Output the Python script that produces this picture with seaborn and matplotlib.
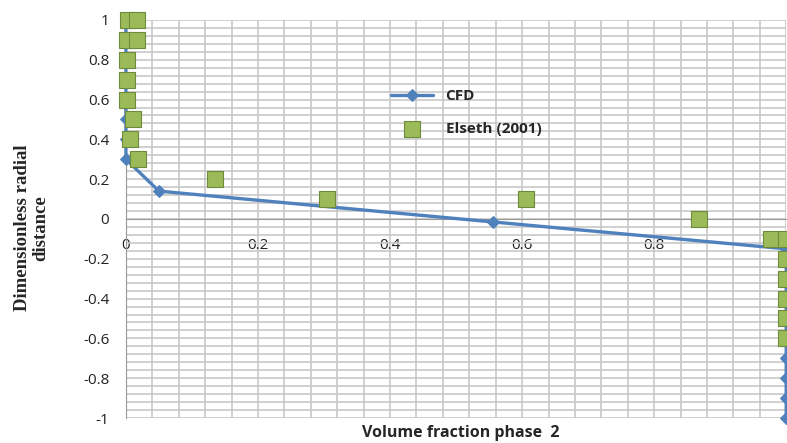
import numpy as np
import pandas as pd
import matplotlib
matplotlib.use('Agg')
import matplotlib.pyplot as plt
import seaborn as sns
from matplotlib.ticker import FuncFormatter

# CFD profile
cfd_x = [0, 0, 0, 0, 0, 0, 0, 0, 0.05, 0.556, 1.0, 1.0, 1.0, 1.0, 1.0, 1.0, 1.0, 1.0, 1.0]
cfd_y = [1.0, 0.9, 0.8, 0.7, 0.6, 0.5, 0.4, 0.3, 0.14, -0.015, -0.15, -0.3, -0.4, -0.5, -0.6, -0.7, -0.8, -0.9, -1.0]

# Elseth (2001) measurements
els_x = [0.003, 0.017, 0.002, 0.017, 0.002, 0.002, 0.002, 0.01, 0.006, 0.018, 0.135, 0.304,
         0.606, 0.868, 0.977, 1.0, 1.0, 1.0, 1.0, 1.0, 1.0]
els_y = [1.0, 1.0, 0.9, 0.9, 0.8, 0.7, 0.6, 0.5, 0.4, 0.3, 0.2, 0.1,
         0.1, 0.0, -0.1, -0.1, -0.2, -0.3, -0.4, -0.5, -0.6]

cfd = pd.DataFrame({'x': cfd_x, 'y': cfd_y})
els = pd.DataFrame({'x': els_x, 'y': els_y})

sns.set_style('white')
plt.rcParams['font.family'] = ['Open Sans', 'DejaVu Sans']

fig = plt.figure(figsize=(7.87, 4.43), dpi=100)
ax = fig.add_axes([0.160, 0.0564, 0.839, 0.8986])

sns.lineplot(data=cfd, x='x', y='y', sort=False, estimator=None, ax=ax,
             color='#4F81BD', linewidth=2.4, marker='D', markersize=6,
             markeredgecolor='#4F81BD', label='CFD', zorder=3, clip_on=False)
sns.scatterplot(data=els, x='x', y='y', ax=ax, marker='s', s=120,
                color='#9BBB59', edgecolor='#6E8B3D', linewidth=0.8,
                label='Elseth (2001)', zorder=4, clip_on=False)

ax.set_xlim(0, 1)
ax.set_ylim(-1, 1)
ax.set_xticks(np.arange(0, 1.01, 0.2))
ax.set_yticks(np.arange(-1, 1.01, 0.2))
ax.set_xticks(np.arange(0, 1.001, 0.04), minor=True)
ax.set_yticks(np.arange(-1, 1.001, 0.04), minor=True)
ax.grid(True, which='both', color='#C8C8C8', linewidth=1.2)
ax.set_axisbelow(True)


def fmt_tick(v, p):
    v = round(v, 2)
    if abs(v) < 1e-9:
        v = 0.0
    return '%g' % v


ax.xaxis.set_major_formatter(FuncFormatter(fmt_tick))
ax.yaxis.set_major_formatter(FuncFormatter(fmt_tick))
ax.tick_params(which='both', length=0)
ax.tick_params(axis='x', labelsize=11, pad=14, colors='#222222')
ax.tick_params(axis='y', labelsize=11, pad=12, colors='#222222')

ax.spines['bottom'].set_position(('data', 0))
ax.spines['bottom'].set_color('#999999')
ax.spines['left'].set_color('#999999')
ax.spines['top'].set_visible(False)
ax.spines['right'].set_visible(False)

ax.set_xlabel('')
ax.set_ylabel('')
fig.text(0.04, 0.485, 'Dimensionless radial\ndistance', rotation=90, ha='center', va='center',
         fontsize=13.5, fontweight='bold', family='Liberation Serif', linespacing=1.15)
fig.text(0.585, 0.022, 'Volume fraction phase  2', ha='center', va='center',
         fontsize=11.5, fontweight='bold')

leg = ax.legend(loc='upper left', bbox_to_anchor=(0.38, 0.86), frameon=False,
                handlelength=2.8, labelspacing=1.2, fontsize=11)
for t in leg.get_texts():
    t.set_fontweight('bold')

fig.savefig('out.png', dpi=100)
